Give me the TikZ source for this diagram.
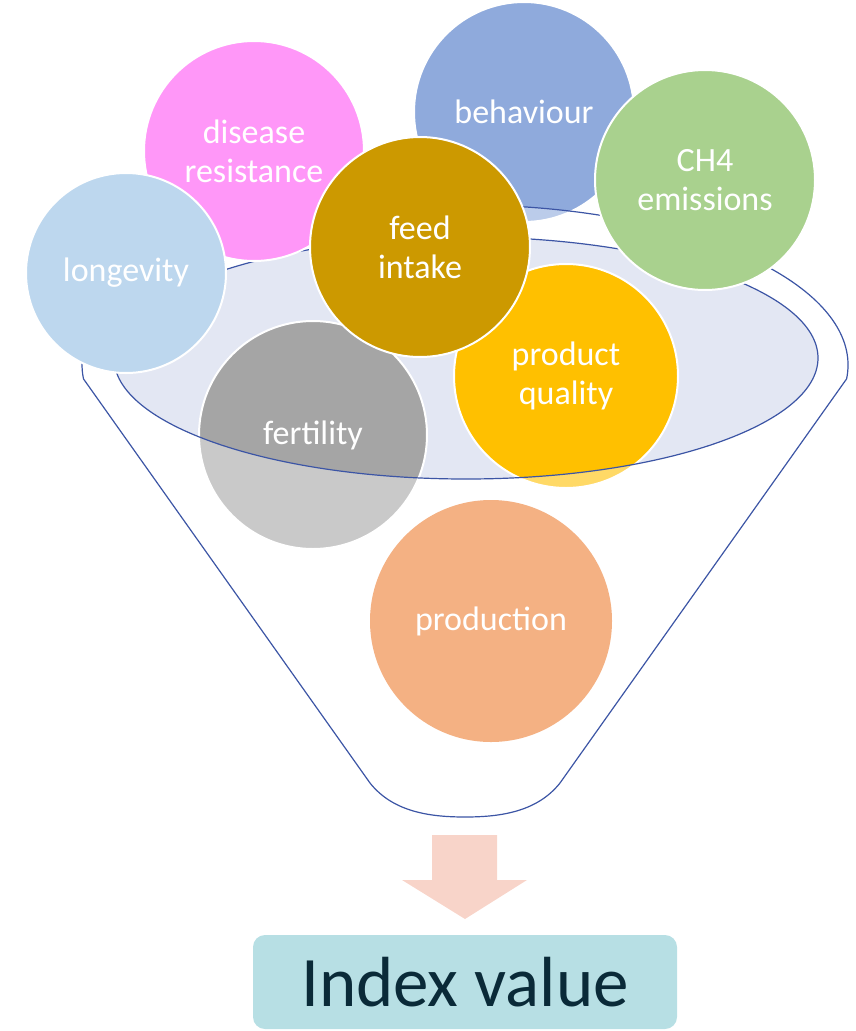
\documentclass[tikz,border=0pt]{standalone}
\usepackage{fontspec}
\setmainfont{Carlito}
\definecolor{longevityc}{HTML}{BDD7EE}
\definecolor{diseasec}{HTML}{FF97F8}
\definecolor{feedc}{HTML}{CC9900}
\definecolor{behavc}{HTML}{8FAADC}
\definecolor{methanec}{HTML}{A9D18E}
\definecolor{qualityc}{HTML}{FFC000}
\definecolor{fertc}{HTML}{A5A5A5}
\definecolor{productionc}{HTML}{ED7D31}
\definecolor{mouthc}{HTML}{E3E7F3}
\definecolor{funnelc}{HTML}{3C55A5}
\definecolor{arrowc}{HTML}{F8D4C9}
\definecolor{indexc}{HTML}{B7DFE4}
\definecolor{indextext}{HTML}{0A2A38}
\begin{document}
\begin{tikzpicture}[x=1pt,y=-1pt,
  bubble/.style={circle, fill=#1, draw=white, line width=2pt, text=white,
    align=center, inner sep=0pt, font=\fontsize{34}{39}\selectfont},
  funnelline/.style={draw=funnelc, line width=1.2pt},
  indexbox/.style={rounded corners=12pt, fill=indexc, text=indextext,
    minimum width=424pt, minimum height=94pt, inner sep=0pt,
    font=\fontsize{71}{80}\selectfont}]
\useasboundingbox (0,0) rectangle (856,1031);

% funnel geometry
\coordinate (rimL) at (83.5,378.9);
\coordinate (bR) at (560,783);
\coordinate (bL) at (370,783);
\coordinate (bM) at (465,817);
\def\funnelpath{(rimL) arc[start angle=175, end angle=365, x radius=383, y radius=160]
  -- (bR) .. controls (537,812) and (500,817) .. (bM)
  .. controls (430,817) and (393,812) .. (bL) -- cycle}

% mouth of the funnel
\fill[mouthc] (466,358) ellipse[x radius=352, y radius=121];

% bubbles sitting inside the funnel
\node[bubble=behavc, minimum size=220pt] (behav) at (524,112) {behaviour};
\node[bubble=fertc, minimum size=228pt] (fert) at (313,435) {fertility};
\node[bubble=qualityc, minimum size=224pt] (qual) at (566,376) {product\\quality};
\node[bubble=productionc, minimum size=242pt, draw=none] (prod) at (491,621) {production};

% translucent funnel body with open mouth
\fill[white, opacity=0.4, even odd rule] \funnelpath (466,358) ellipse[x radius=352, y radius=121];
\draw[funnelline] \funnelpath;
\draw[funnelline] (466,358) ellipse[x radius=352, y radius=121];

% bubbles resting on top
\node[bubble=diseasec, minimum size=220pt] (dis) at (254,151) {disease\\resistance};
\node[bubble=longevityc, minimum size=200pt] (lon) at (126,273) {longevity};
\node[bubble=feedc, minimum size=220pt] (feed) at (420,247) {feed\\intake};
\node[bubble=methanec, minimum size=220pt] (ch4) at (705,180) {CH4\\emissions};

% result
\node[indexbox] (index) at (465,982) {Index value};
\fill[arrowc] (432,835) -- (497,835) -- (497,880) -- (527,880) -- (465,919)
  -- (402,880) -- (432,880) -- cycle;
\end{tikzpicture}
\end{document}
